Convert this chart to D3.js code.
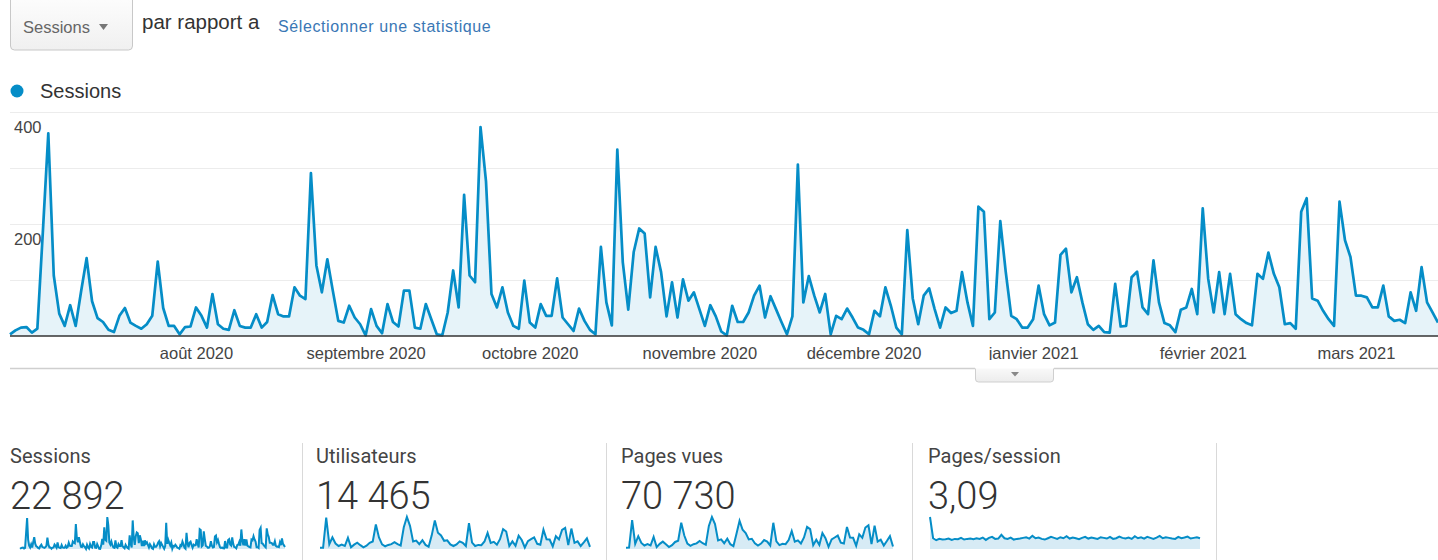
<!DOCTYPE html>
<html lang="fr">
<head>
<meta charset="utf-8">
<script src="https://cdn.jsdelivr.net/npm/d3@7"></script>
<style>
  html, body { margin: 0; padding: 0; background: #fff; }
  svg { display: block; }
</style>
</head>
<body>
<svg id="chart" width="1438" height="560"></svg>
<script>
const startDate = new Date(2020, 5, 28);
const sessions = [
  3, 10, 15, 16, 6, 13, 185, 362, 108, 40,
  18, 55, 18, 80, 139, 62, 32, 25, 11, 7,
  36, 50, 24, 18, 13, 21, 36, 133, 50, 18,
  18, 3, 16, 17, 51, 36, 15, 75, 21, 13,
  11, 46, 18, 15, 15, 39, 15, 25, 73, 39,
  35, 35, 87, 72, 66, 291, 126, 78, 137, 81,
  27, 24, 54, 33, 21, 1, 48, 18, 5, 57,
  25, 17, 81, 81, 15, 13, 57, 30, 3, 1,
  42, 117, 51, 252, 108, 96, 373, 276, 75, 51,
  87, 42, 18, 13, 99, 24, 15, 57, 36, 36,
  103, 33, 21, 9, 49, 27, 11, 3, 159, 60,
  19, 333, 132, 47, 150, 192, 183, 69, 159, 114,
  35, 96, 33, 101, 63, 78, 48, 18, 55, 35,
  8, 1, 54, 25, 25, 42, 72, 90, 33, 71,
  48, 25, 3, 35, 306, 60, 107, 72, 42, 75,
  3, 36, 30, 49, 33, 15, 11, 3, 45, 35,
  87, 54, 15, 3, 189, 67, 21, 72, 85, 48,
  15, 51, 41, 45, 114, 60, 18, 231, 222, 30,
  42, 205, 114, 36, 30, 15, 15, 30, 90, 39,
  19, 24, 145, 156, 78, 105, 60, 21, 11, 18,
  7, 6, 93, 17, 18, 105, 115, 51, 39, 135,
  60, 23, 19, 7, 47, 51, 84, 39, 228, 102,
  42, 114, 39, 111, 39, 30, 23, 19, 111, 102,
  149, 111, 87, 21, 23, 13, 222, 246, 67, 63,
  45, 30, 18, 240, 171, 141, 72, 72, 69, 51,
  51, 90, 35, 27, 29, 23, 78, 45, 123, 60,
  42, 24
];

const monthTicks = [
  new Date(2020, 7, 1), new Date(2020, 8, 1), new Date(2020, 9, 1),
  new Date(2020, 10, 1), new Date(2020, 11, 1), new Date(2021, 0, 1),
  new Date(2021, 1, 1), new Date(2021, 2, 1)
];
const monthLabels = [
  "août 2020", "septembre 2020", "octobre 2020", "novembre 2020",
  "décembre 2020", "janvier 2021", "février 2021", "mars 2021"
];
const gridValues = [100, 200, 300, 400];
const yLabelValues = [200, 400];

// Cartes de synthese
const cardTitles = ["Sessions", "Utilisateurs", "Pages vues", "Pages/session"];
const cardValues = ["22 892", "14 465", "70 730", "3,09"];

// Mini-courbes (un point tous les 3 jours, estimees a l'oeil)
const usersSpark = [
  10, 10, 230, 35, 85, 40, 22, 32, 22, 82, 12, 32, 46, 28, 12, 24, 45, 55, 180, 85,
  34, 20, 30, 36, 50, 36, 26, 160, 235, 170, 55, 62, 36, 64, 30, 17, 100, 210, 120, 100,
  60, 64, 34, 22, 34, 56, 45, 22, 190, 47, 22, 30, 28, 55, 118, 45, 53, 32, 72, 145,
  128, 22, 56, 24, 98, 66, 11, 58, 72, 85, 38, 32, 142, 72, 70, 19, 94, 70, 140, 155,
  28, 150, 45, 56, 22, 49, 78, 15
];
const pageviewsSpark = [
  40, 45, 900, 160, 400, 190, 110, 150, 110, 380, 60, 160, 230, 150, 60, 120, 220, 260, 820, 420,
  170, 100, 150, 175, 250, 180, 130, 720, 1000, 780, 270, 300, 180, 320, 150, 90, 480, 880, 600, 500,
  300, 320, 180, 110, 170, 280, 230, 110, 820, 240, 120, 160, 150, 280, 560, 230, 270, 170, 360, 690,
  620, 120, 290, 130, 500, 340, 70, 300, 360, 420, 200, 170, 690, 360, 350, 100, 460, 350, 670, 740,
  150, 730, 230, 290, 110, 250, 400, 80
];
const ppsSpark = [
  9.5, 3.2, 2.6, 3.0, 2.8, 2.9, 3.1, 2.7, 3.0, 2.9, 3.3, 2.8, 3.0, 3.1, 2.9, 3.2, 3.0, 3.4, 2.7, 3.3,
  3.6, 3.0, 3.1, 4.2, 3.2, 3.0, 3.4, 2.8, 3.0, 3.1, 3.3, 3.5, 3.1, 3.9, 3.2, 3.4, 3.0, 2.8, 3.2, 3.6,
  3.3, 3.0, 3.5, 3.2, 3.8, 3.1, 3.4, 3.2, 2.9, 3.3, 3.6, 3.1, 3.4, 3.2, 3.0, 3.5, 3.3, 3.1, 3.6, 3.0,
  3.2, 3.7, 3.3, 3.1, 3.4, 3.0, 3.8, 3.2, 3.5, 3.1, 3.6, 3.3, 3.0, 3.4, 3.9, 3.2, 3.5, 3.3, 3.1, 3.0,
  3.6, 3.2, 3.4, 3.7, 3.1, 3.3, 3.5, 3.2
];

const blue = "#058dc7";
const axisFont = "Arial, 'Liberation Sans', sans-serif";
const cardFont = "Roboto, 'Noto Sans', sans-serif";

const svg = d3.select("#chart");
const defs = svg.append("defs");

const data = sessions.map((v, i) => ({ date: d3.timeDay.offset(startDate, i), value: v }));

// Barre du haut
const btnGrad = defs.append("linearGradient")
  .attr("id", "btnGrad").attr("x1", 0).attr("x2", 0).attr("y1", 0).attr("y2", 1);
btnGrad.append("stop").attr("offset", "0%").attr("stop-color", "#ffffff");
btnGrad.append("stop").attr("offset", "100%").attr("stop-color", "#f0f0f0");

svg.append("rect")
  .attr("x", 10.5).attr("y", -12).attr("width", 122).attr("height", 62)
  .attr("rx", 4)
  .attr("fill", "url(#btnGrad)")
  .attr("stroke", "#c8c8c8");

svg.append("text")
  .attr("x", 23).attr("y", 33)
  .attr("font-family", axisFont).attr("font-size", 16.5)
  .attr("fill", "#666")
  .text("Sessions");

svg.append("path")
  .attr("d", "M99,24 L108,24 L103.5,30 Z")
  .attr("fill", "#777");

svg.append("text")
  .attr("x", 142).attr("y", 29)
  .attr("font-family", axisFont).attr("font-size", 20.5)
  .attr("fill", "#333")
  .text("par rapport a");

svg.append("text")
  .attr("x", 278).attr("y", 32)
  .attr("font-family", axisFont).attr("font-size", 16)
  .attr("letter-spacing", 0.6)
  .attr("fill", "#3a77b5")
  .text("Sélectionner une statistique");

// Legende
svg.append("circle")
  .attr("cx", 17).attr("cy", 91).attr("r", 6.5)
  .attr("fill", blue);

svg.append("text")
  .attr("x", 40).attr("y", 98)
  .attr("font-family", axisFont).attr("font-size", 20)
  .attr("fill", "#333")
  .text("Sessions");

// Graphique principal
const x = d3.scaleTime()
  .domain([startDate, d3.timeDay.offset(startDate, sessions.length - 1)])
  .range([10, 1438]);
const y = d3.scaleLinear().domain([0, 400]).range([336, 112]);

svg.append("g")
  .selectAll("line")
  .data(gridValues)
  .join("line")
  .attr("x1", 10).attr("x2", 1438)
  .attr("y1", d => y(d) + 0.5).attr("y2", d => y(d) + 0.5)
  .attr("stroke", "#ececec");

const area = d3.area()
  .x(d => x(d.date))
  .y0(y(0))
  .y1(d => y(d.value));

const line = d3.line()
  .x(d => x(d.date))
  .y(d => y(d.value));

svg.append("path")
  .datum(data)
  .attr("d", area)
  .attr("fill", "#e6f3f9");

svg.append("path")
  .datum(data)
  .attr("d", line)
  .attr("fill", "none")
  .attr("stroke", blue)
  .attr("stroke-width", 2.7)
  .attr("stroke-linejoin", "round");

svg.append("line")
  .attr("x1", 10).attr("x2", 1438)
  .attr("y1", y(0)).attr("y2", y(0))
  .attr("stroke", "#333").attr("stroke-width", 1.6);

svg.append("g")
  .selectAll("text")
  .data(yLabelValues)
  .join("text")
  .attr("x", 14)
  .attr("y", d => y(d) + 20.5)
  .attr("font-family", axisFont).attr("font-size", 16.5)
  .attr("fill", "#444")
  .text(d => d);

// Axe des mois
const xAxis = d3.axisBottom(x)
  .tickValues(monthTicks)
  .tickSize(0)
  .tickPadding(11)
  .tickFormat((d, i) => monthLabels[i]);

const xAxisGroup = svg.append("g")
  .attr("transform", `translate(0,${y(0)})`)
  .call(xAxis);
xAxisGroup.select(".domain").remove();
xAxisGroup.selectAll("text")
  .attr("font-family", axisFont)
  .attr("font-size", 16.5)
  .attr("fill", "#444");

// Bordure basse et onglet
svg.append("line")
  .attr("x1", 10).attr("x2", 1438)
  .attr("y1", 368.5).attr("y2", 368.5)
  .attr("stroke", "#cfcfcf").attr("stroke-width", 1.5);

const tabGrad = defs.append("linearGradient")
  .attr("id", "tabGrad").attr("x1", 0).attr("x2", 0).attr("y1", 0).attr("y2", 1);
tabGrad.append("stop").attr("offset", "0%").attr("stop-color", "#ffffff");
tabGrad.append("stop").attr("offset", "100%").attr("stop-color", "#ececec");

svg.append("rect")
  .attr("x", 975.5).attr("y", 362).attr("width", 78).attr("height", 20)
  .attr("rx", 3)
  .attr("fill", "url(#tabGrad)")
  .attr("stroke", "#cfcfcf");
svg.append("rect")
  .attr("x", 975).attr("y", 360).attr("width", 79).attr("height", 8.5)
  .attr("fill", "#fff");
svg.append("path")
  .attr("d", "M1011,372 L1019,372 L1015,376.5 Z")
  .attr("fill", "#888");

// Cartes
const cardX = [10, 316, 621, 928];
const sepX = [302, 606, 912, 1216];
const sparkSeries = [sessions, usersSpark, pageviewsSpark, ppsSpark];
const sparkRanges = [[20, 285], [320, 590], [626, 893], [930, 1200]];

svg.append("g")
  .selectAll("line")
  .data(sepX)
  .join("line")
  .attr("x1", d => d + 0.5).attr("x2", d => d + 0.5)
  .attr("y1", 443).attr("y2", 560)
  .attr("stroke", "#d9d9d9");

const cards = svg.append("g")
  .selectAll("g")
  .data(cardTitles)
  .join("g");

cards.append("text")
  .attr("x", (d, i) => cardX[i])
  .attr("y", 463)
  .attr("font-family", cardFont).attr("font-size", 20)
  .attr("fill", "#444")
  .text(d => d);

cards.append("text")
  .attr("x", (d, i) => cardX[i])
  .attr("y", 509)
  .attr("font-family", cardFont).attr("font-size", 38)
  .attr("font-weight", 300)
  .attr("fill", "#333")
  .text((d, i) => cardValues[i]);

sparkSeries.forEach((series, k) => {
  const sx = d3.scaleLinear()
    .domain([0, series.length - 1])
    .range(sparkRanges[k]);
  const sy = d3.scaleLinear()
    .domain([0, d3.max(series)])
    .range([549, 517]);

  svg.append("path")
    .datum(series)
    .attr("d", d3.area().x((d, i) => sx(i)).y0(549).y1(d => sy(d)))
    .attr("fill", "#d7ebf5");

  svg.append("path")
    .datum(series)
    .attr("d", d3.line().x((d, i) => sx(i)).y(d => sy(d)))
    .attr("fill", "none")
    .attr("stroke", blue)
    .attr("stroke-width", 2);
});
</script>
</body>
</html>
